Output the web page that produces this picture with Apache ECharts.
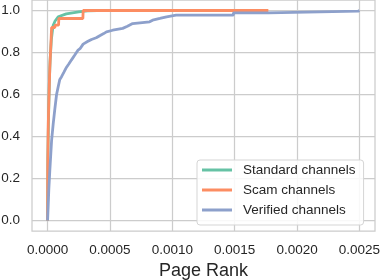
<!DOCTYPE html>
<html>
<head>
<meta charset="utf-8">
<script src="https://cdn.jsdelivr.net/npm/echarts@6/dist/echarts.min.js"></script>
<style>
html,body{margin:0;padding:0;background:#fff;}
#chart{width:382px;height:280px;}
</style>
</head>
<body>
<div id="chart"></div>
<script>
// Page Rank values (in raw units) and cumulative fractions
var seriesNames = ['Standard channels', 'Scam channels', 'Verified channels'];

var standardX = [0, 0.000002, 0.000008, 0.000015, 0.00002, 0.00003, 0.00004, 0.000045, 0.00006, 0.000085, 0.0001, 0.00015, 0.00025, 0.00032, 0.0004, 0.0005, 0.0015];
var standardY = [0, 0.30, 0.50, 0.68, 0.76, 0.86, 0.91, 0.93, 0.95, 0.97, 0.976, 0.984, 0.993, 0.998, 0.999, 1.0, 1.0];

var scamX = [0, 0.000001, 0.000005, 0.00001, 0.000018, 0.000028, 0.000032, 0.000058, 0.00006, 0.000088, 0.00009, 0.000283, 0.000285, 0.00177];
var scamY = [0, 0.25, 0.45, 0.57, 0.73, 0.86, 0.919, 0.919, 0.93, 0.93, 0.962, 0.962, 1.0, 1.0];

var verifiedX = [0, 0.00001, 0.000018, 0.000032, 0.000045, 0.000058, 0.000072, 0.000085, 0.000098, 0.000112, 0.00013, 0.000152, 0.00017, 0.000192, 0.000218, 0.000242, 0.00026, 0.000285, 0.00032, 0.000352, 0.00039, 0.000418, 0.00045, 0.000472, 0.000522, 0.000602, 0.00064, 0.000682, 0.000818, 0.000842, 0.0009, 0.000954, 0.00103, 0.00149, 0.00149, 0.00177, 0.00177, 0.00249, 0.0025];
var verifiedY = [0, 0.15, 0.24, 0.38, 0.46, 0.53, 0.60, 0.637, 0.672, 0.685, 0.705, 0.73, 0.745, 0.765, 0.788, 0.81, 0.818, 0.84, 0.852, 0.862, 0.87, 0.88, 0.89, 0.898, 0.906, 0.915, 0.925, 0.938, 0.946, 0.954, 0.962, 0.97, 0.978, 0.978, 0.989, 0.989, 0.997, 0.997, 1.0];

var xTicks = [0, 0.0005, 0.001, 0.0015, 0.002, 0.0025];
var yTicks = [0, 0.2, 0.4, 0.6, 0.8, 1.0];
var xLabel = 'Page Rank';

var colors = ['#66c2a5', '#fc8d62', '#8da0cb'];

function pairs(xs, ys) {
  var out = [];
  for (var i = 0; i < xs.length; i++) out.push([xs[i], ys[i]]);
  return out;
}

var chart = echarts.init(document.getElementById('chart'), null, {renderer: 'canvas'});
var textColor = '#262626';
var fontFam = 'Liberation Sans, Arial, sans-serif';

chart.setOption({
  animation: false,
  backgroundColor: '#ffffff',
  grid: {
    left: 32, right: 7, top: 0, bottom: 49,
    containLabel: false,
    outerBoundsMode: 'none',
    show: true, borderColor: '#cccccc', borderWidth: 1.25, backgroundColor: 'transparent'
  },
  xAxis: {
    type: 'value',
    min: -0.000125, max: 0.002625,
    name: xLabel,
    nameLocation: 'middle',
    nameGap: 27,
    nameTextStyle: {color: textColor, fontSize: 18, fontFamily: fontFam},
    axisLine: {show: false},
    axisTick: {show: false, customValues: xTicks},
    axisLabel: {
      customValues: xTicks,
      color: textColor, fontSize: 13.5, fontFamily: fontFam, margin: 12,
      formatter: function (v) { return v.toFixed(4); }
    },
    splitLine: {show: true, lineStyle: {color: '#cccccc', width: 1.25}}
  },
  yAxis: {
    type: 'value',
    min: -0.05, max: 1.05,
    axisLine: {show: false},
    axisTick: {show: false, customValues: yTicks},
    axisLabel: {
      customValues: yTicks,
      color: textColor, fontSize: 13.5, fontFamily: fontFam, margin: 12,
      formatter: function (v) { return v.toFixed(1); }
    },
    splitLine: {show: true, lineStyle: {color: '#cccccc', width: 1.25}}
  },
  legend: {
    orient: 'vertical',
    left: 197, top: 160,
    padding: [3, 8, 8, 5],
    itemGap: 6,
    itemWidth: 30,
    itemHeight: 3,
    icon: 'rect',
    backgroundColor: 'rgba(255,255,255,0.85)',
    borderColor: '#d5d5d5',
    borderWidth: 1,
    borderRadius: 3,
    textStyle: {color: textColor, fontSize: 13.5, fontFamily: fontFam, lineHeight: 14, padding: [0, 0, 0, 6]},
    data: seriesNames
  },
  series: [
    {name: seriesNames[0], type: 'line', showSymbol: false, data: pairs(standardX, standardY),
     lineStyle: {color: colors[0], width: 2.8}, itemStyle: {color: colors[0]}},
    {name: seriesNames[1], type: 'line', showSymbol: false, data: pairs(scamX, scamY),
     lineStyle: {color: colors[1], width: 2.8}, itemStyle: {color: colors[1]}},
    {name: seriesNames[2], type: 'line', showSymbol: false, data: pairs(verifiedX, verifiedY),
     lineStyle: {color: colors[2], width: 2.8}, itemStyle: {color: colors[2]}}
  ]
});
</script>
</body>
</html>
